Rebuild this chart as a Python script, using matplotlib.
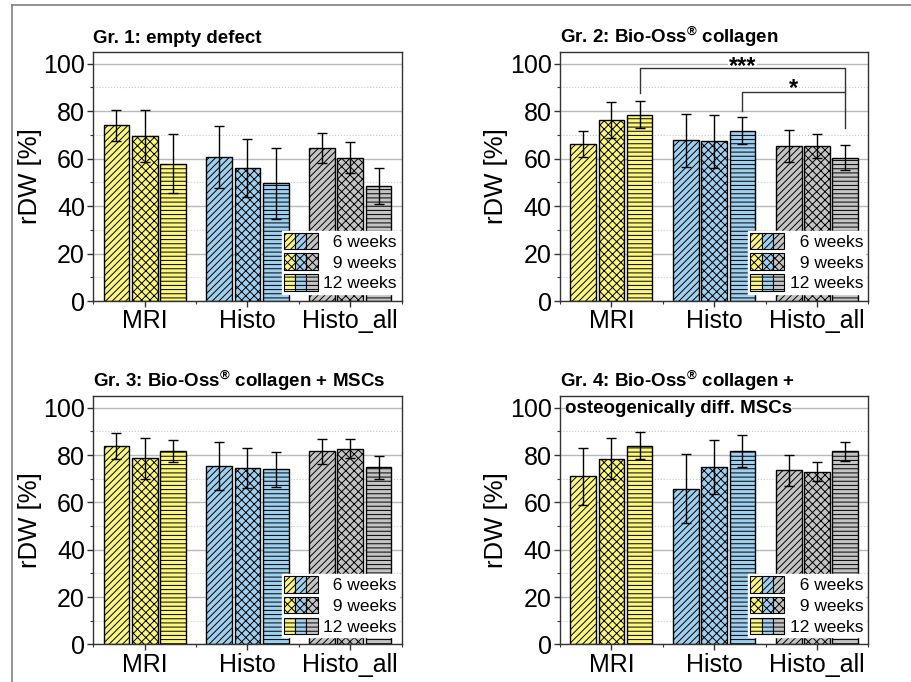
import numpy as np
import matplotlib.pyplot as plt
from matplotlib.patches import Rectangle
from matplotlib.lines import Line2D
from matplotlib.legend_handler import HandlerTuple
from matplotlib.ticker import MultipleLocator

plt.rcParams['font.family'] = ['Liberation Sans', 'DejaVu Sans']
plt.rcParams['hatch.linewidth'] = 0.7
plt.rcParams['mathtext.fontset'] = 'custom'
plt.rcParams['mathtext.rm'] = 'Liberation Sans:bold'
plt.rcParams['mathtext.bf'] = 'Liberation Sans:bold'

# data (rows: MRI, Histo, Histo_all ; cols: 6, 9, 12 weeks)
methods = ['MRI', 'Histo', 'Histo_all']
weeks = ['6 weeks', '9 weeks', '12 weeks']

gr1_mean = [[74.0, 69.5, 57.9], [60.7, 56.1, 49.5], [64.4, 60.4, 48.5]]
gr1_err = [[6.5, 10.9, 12.3], [12.9, 12.3, 15.0], [6.3, 6.5, 7.6]]

gr2_mean = [[66.1, 76.4, 78.5], [67.6, 67.2, 71.7], [65.2, 65.4, 60.3]]
gr2_err = [[5.6, 7.6, 5.8], [11.2, 11.2, 5.6], [6.7, 5.0, 5.3]]

gr3_mean = [[83.7, 78.6, 81.7], [75.4, 74.5, 74.1], [81.7, 82.7, 74.8]]
gr3_err = [[5.5, 8.6, 4.6], [10.3, 8.3, 7.4], [5.3, 4.0, 5.0]]

gr4_mean = [[71.0, 78.5, 84.0], [65.7, 75.0, 81.7], [73.6, 73.0, 81.7]]
gr4_err = [[12.0, 8.6, 5.8], [14.6, 11.3, 6.7], [6.5, 4.1, 4.0]]

titles = ['Gr. 1: empty defect',
          'Gr. 2: Bio-Oss$^{\u00ae}$ collagen',
          'Gr. 3: Bio-Oss$^{\u00ae}$ collagen + MSCs',
          'Gr. 4: Bio-Oss$^{\u00ae}$ collagen +']

colors = ['#fbf77f', '#9fd0f0', '#c4c4c4']
hatches = ['/////', 'xxxx', '----']

W, H = 911, 682
fig = plt.figure(figsize=(W / 100, H / 100), dpi=100)

# outer frame (top and left edges only visible)
fig.add_artist(Line2D([12 / W, 1], [1 - 5 / H, 1 - 5 / H], transform=fig.transFigure, color='#808080', lw=1.2))
fig.add_artist(Line2D([12 / W, 12 / W], [0, 1 - 5 / H], transform=fig.transFigure, color='#808080', lw=1.2))

# axes boxes in pixels: left, top, right, bottom
boxes = [(93.3, 51.7, 401.7, 301.0), (560.0, 51.7, 868.3, 301.0),
         (93.3, 396.0, 401.7, 644.3), (560.0, 396.0, 868.3, 644.3)]

means = [gr1_mean, gr2_mean, gr3_mean, gr4_mean]
errs = [gr1_err, gr2_err, gr3_err, gr4_err]

x = np.arange(len(methods))
offsets = [-0.275, 0.0, 0.275]
bw = 0.25

axes = []
for k in range(4):
    l, t, r, b = boxes[k]
    ax = fig.add_axes([l / W, 1 - b / H, (r - l) / W, (b - t) / H])
    axes.append(ax)
    m = np.array(means[k])
    e = np.array(errs[k])
    for i in range(len(methods)):
        for j in range(len(weeks)):
            ax.bar(x[i] + offsets[j], m[i, j], bw, color=colors[i], hatch=hatches[j],
                   edgecolor='black', linewidth=1.0, zorder=2)
            ax.errorbar(x[i] + offsets[j], m[i, j], yerr=e[i, j], fmt='none', ecolor='black',
                        elinewidth=1.0, capsize=3.6, capthick=1.0, zorder=3)

    ax.set_xlim(-0.5, 2.5)
    ax.set_ylim(0, 105)
    ax.set_xticks(x)
    ax.set_xticklabels(methods)
    ax.xaxis.set_minor_locator(MultipleLocator(0.5))
    ax.yaxis.set_major_locator(MultipleLocator(20))
    ax.yaxis.set_minor_locator(MultipleLocator(10))
    ax.grid(axis='y', which='major', color='#b8b8b8', lw=1.0, zorder=0)
    ax.grid(axis='y', which='minor', color='#c8c8c8', lw=0.8, ls=':', zorder=0)
    ax.set_axisbelow(True)
    ax.tick_params(which='major', direction='out', length=4, width=1, labelsize=18, pad=2, color='#333333')
    ax.tick_params(which='minor', direction='out', length=2, width=0.8, color='#333333')
    for s in ax.spines.values():
        s.set_color('#333333')
        s.set_linewidth(1.0)
    ax.set_ylabel('rDW [%]', fontsize=18.5, labelpad=1)

    ax.text(0.0, 1.036, titles[k], transform=ax.transAxes, fontsize=13.5, fontweight='bold',
            ha='left', va='baseline')

    handles = [tuple(Rectangle((0, 0), 1, 1, facecolor=c, hatch=hatches[j], edgecolor='black', lw=0.8)
                     for c in colors) for j in range(len(weeks))]
    labels = ['  ' + w if len(w) < 8 else w for w in weeks]
    leg = ax.legend(handles, labels, handler_map={tuple: HandlerTuple(ndivide=None, pad=0)},
                    loc='lower right', bbox_to_anchor=(0.99, 0.03), borderaxespad=0,
                    fontsize=12.5, handlelength=1.95, handleheight=1.1, labelspacing=0.2,
                    handletextpad=0.3, borderpad=0.12, fancybox=False, framealpha=1,
                    edgecolor='white', facecolor='white')

# second title line of group 4 inside the axes
axes[3].text(0.016, 0.932, 'osteogenically diff. MSCs', transform=axes[3].transAxes, fontsize=13.5,
             fontweight='bold', ha='left', va='baseline', zorder=1,
             bbox=dict(facecolor='white', edgecolor='none', pad=0))

# significance brackets in group 2
ax = axes[1]
xa = x[0] + offsets[2]
xb = x[1] + offsets[2]
xc = x[2] + offsets[2]
ax.plot([xa, xa, xc, xc], [87.6, 98.0, 98.0, 73.0], color='#333333', lw=1.0, zorder=4)
ax.plot([xb, xb, xc], [80.0, 88.0, 88.0], color='#333333', lw=1.0, zorder=4)
ax.text((xa + xc) / 2, 96.0, '***', ha='center', va='baseline', fontsize=17, fontweight='bold', zorder=3,
        bbox=dict(facecolor='white', edgecolor='none', pad=0.3))
ax.text((xb + xc) / 2, 86.6, '*', ha='center', va='baseline', fontsize=17, fontweight='bold', zorder=3)

fig.savefig('out.png', dpi=100)
